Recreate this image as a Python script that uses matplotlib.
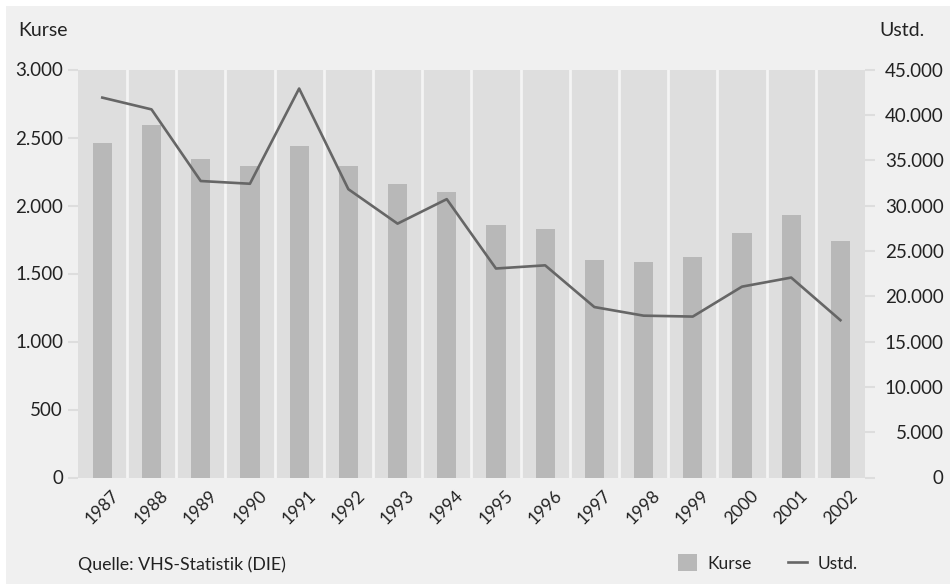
import matplotlib
matplotlib.use("Agg")
import matplotlib.pyplot as plt
from matplotlib.ticker import FuncFormatter, MultipleLocator
from matplotlib.patches import Rectangle

years = ["1987", "1988", "1989", "1990", "1991", "1992", "1993", "1994",
         "1995", "1996", "1997", "1998", "1999", "2000", "2001", "2002"]
kurse = [2460, 2590, 2340, 2290, 2440, 2290, 2160, 2100,
         1855, 1825, 1600, 1585, 1620, 1795, 1930, 1740]
ustd = [41900, 40600, 32700, 32400, 42900, 31800, 28000, 30700,
        23050, 23400, 18800, 17850, 17750, 21050, 22050, 17350]

plt.rcParams['font.family'] = ['Lato', 'DejaVu Sans']
TXT = '#222222'
FIG_BG = '#f0f0f0'
AX_BG = '#dedede'
BAR_C = '#b8b8b8'
LINE_C = '#666666'

W, H = 950, 584
fig = plt.figure(figsize=(W / 100, H / 100), dpi=100)
fig.patch.set_facecolor('white')
fig.add_artist(Rectangle((6 / W, 0), 1 - 6 / W, 1 - 6 / H, transform=fig.transFigure,
                         facecolor=FIG_BG, edgecolor='none', zorder=-10))

left, right, bottom, top = 77.7, 865, 477.5, 69.5
ax = fig.add_axes([left / W, 1 - bottom / H, (right - left) / W, (bottom - top) / H])
ax.set_facecolor(AX_BG)
x = list(range(len(years)))
ax.bar(x, kurse, width=0.39, color=BAR_C, zorder=2, label='Kurse')
for i in range(len(years) - 1):
    ax.axvline(i + 0.5, color='#f4f4f4', lw=2.0, zorder=1)
ax.set_xlim(-0.5, len(years) - 0.5)
ax.set_ylim(0, 3000)
ax.yaxis.set_major_locator(MultipleLocator(500))
fmt = FuncFormatter(lambda v, p: f"{int(round(v)):,}".replace(',', '.'))
ax.yaxis.set_major_formatter(fmt)
for s in ax.spines.values():
    s.set_visible(False)
ax.set_xticks(x)
ax.set_xticklabels(years, rotation=45, ha='center', va='top', fontsize=12.5, color=TXT)
ax.tick_params(axis='x', length=0, pad=7)
ax.tick_params(axis='y', length=7, width=1.5, color='#dddddd', labelsize=13.5,
               labelcolor=TXT, pad=3.5)

ax2 = ax.twinx()
ax2.patch.set_visible(False)
ax2.plot(x, ustd, color=LINE_C, lw=1.9, zorder=5, label='Ustd.')
ax2.set_ylim(0, 45000)
ax2.yaxis.set_major_locator(MultipleLocator(5000))
ax2.yaxis.set_major_formatter(fmt)
for s in ax2.spines.values():
    s.set_visible(False)
ax2.tick_params(axis='y', length=7, width=1.5, color='#dddddd', labelsize=13.5,
                labelcolor=TXT, pad=49.7)
for lab in ax2.get_yticklabels():
    lab.set_horizontalalignment('right')

fig.text(18 / W, 1 - 30 / H, 'Kurse', fontsize=14, color=TXT, ha='left', va='center')
fig.text(879 / W, 1 - 30 / H, 'Ustd.', fontsize=14, color=TXT, ha='left', va='center')
fig.text(78 / W, 1 - 565 / H, 'Quelle: VHS-Statistik (DIE)', fontsize=12.8, color=TXT,
         ha='left', va='center')

h1, l1 = ax.get_legend_handles_labels()
h2, l2 = ax2.get_legend_handles_labels()
leg = fig.legend(h1 + h2, l1 + l2, loc='center left', bbox_to_anchor=(678 / W, 1 - 563 / H),
                 ncol=2, frameon=False, fontsize=12.5, handlelength=1.1, handleheight=1.1,
                 handletextpad=0.6, columnspacing=2.1, borderpad=0, borderaxespad=0,
                 labelcolor=TXT)

fig.savefig('out.png', dpi=100, facecolor=fig.get_facecolor())
